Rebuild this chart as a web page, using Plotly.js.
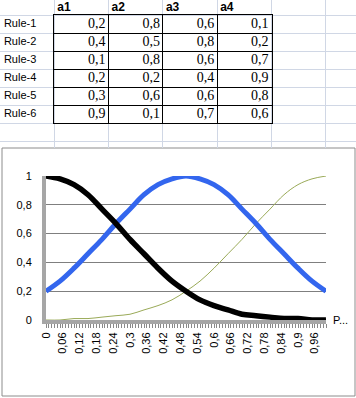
<!DOCTYPE html>
<html>
<head>
<meta charset="utf-8">
<script src="https://cdn.plot.ly/plotly-3.0.1.min.js"></script>
<style>
html,body{margin:0;padding:0;background:#fff;}
#chart{width:356px;height:398px;}
</style>
</head>
<body>
<div id="chart"></div>
<script>
// ---- table data ----
const ruleLabels = ["Rule-1","Rule-2","Rule-3","Rule-4","Rule-5","Rule-6"];
const colHeaders = ["a1","a2","a3","a4"];
const a1 = [0.2,0.4,0.1,0.2,0.3,0.9];
const a2 = [0.8,0.5,0.8,0.2,0.6,0.1];
const a3 = [0.6,0.8,0.6,0.4,0.6,0.7];
const a4 = [0.1,0.2,0.7,0.9,0.8,0.6];

// ---- chart data ----
const xs = [0,0.05,0.1,0.15,0.2,0.25,0.3,0.35,0.4,0.45,0.5,0.55,0.6,0.65,0.7,0.75,0.8,0.85,0.9,0.95,1];
const blackSeries = [1,0.98,0.94,0.87,0.77,0.67,0.56,0.46,0.36,0.27,0.2,0.14,0.1,0.07,0.04,0.03,0.02,0.01,0.01,0,0];
const blueSeries  = [0.2,0.27,0.36,0.46,0.56,0.67,0.77,0.87,0.94,0.98,1,0.98,0.94,0.87,0.77,0.67,0.56,0.46,0.36,0.27,0.2];
const greenSeries = [0,0,0.01,0.01,0.02,0.03,0.04,0.07,0.1,0.14,0.2,0.27,0.36,0.46,0.56,0.67,0.77,0.87,0.94,0.98,1];
const xTickVals = [0,0.06,0.12,0.18,0.24,0.3,0.36,0.42,0.48,0.54,0.6,0.66,0.72,0.78,0.84,0.9,0.96];
const seriesName = "P...";

const W = 356, H = 398;
const py = p => 1 - p / H;
const px = p => p / W;
const fmt = v => String(v).replace('.', ',');

const COLW = 54.3, ROWH = 18, HEADH = 15, SHEETH = 148;
const PAD = 3 / COLW; // text padding inside a cell, in column units
const sheetGray = '#d0d7e5';
const sans = 'Liberation Sans, Arial, sans-serif';
const serif = 'Liberation Serif, Times New Roman, serif';

// ---- table text marks, built from the data arrays ----
const cols = [a1, a2, a3, a4];
const numX = [], numY = [], numT = [];
cols.forEach((col, j) => col.forEach((v, i) => { numX.push(j + 2 - PAD); numY.push(i + 0.5); numT.push(fmt(v)); }));

const tableNums = {
  type: 'scatter', mode: 'text', xaxis: 'x2', yaxis: 'y2',
  x: numX, y: numY, text: numT, textposition: 'middle left',
  cliponaxis: false, hoverinfo: 'skip', showlegend: false,
  textfont: {family: serif, size: 14, color: '#000'}
};
const tableRows = {
  type: 'scatter', mode: 'text', xaxis: 'x2', yaxis: 'y2',
  x: ruleLabels.map(() => 1.3 * PAD), y: ruleLabels.map((r, i) => i + 0.5), text: ruleLabels,
  textposition: 'middle right', cliponaxis: false, hoverinfo: 'skip', showlegend: false,
  textfont: {family: sans, size: 11, color: '#000'}
};
const tableHead = {
  type: 'scatter', mode: 'text', xaxis: 'x2', yaxis: 'y2',
  x: colHeaders.map((h, j) => j + 1 + PAD), y: colHeaders.map(() => -HEADH / ROWH / 2),
  text: colHeaders.map(h => '<b>' + h + '</b>'),
  textposition: 'middle right', cliponaxis: false, hoverinfo: 'skip', showlegend: false,
  textfont: {family: sans, size: 12, color: '#000'}
};

const lineCommon = {type: 'scatter', mode: 'lines', x: xs, cliponaxis: false, hoverinfo: 'skip', showlegend: false};
const traces = [
  Object.assign({}, lineCommon, {y: greenSeries, line: {color: '#9aaa58', width: 1, shape: 'spline'}}),
  Object.assign({}, lineCommon, {y: blueSeries, line: {color: '#3366ee', width: 5, shape: 'spline'}}),
  Object.assign({}, lineCommon, {y: blackSeries, line: {color: '#000000', width: 5.5, shape: 'spline'}}),
  tableNums, tableRows, tableHead,
  {type: 'scatter', x: [], y: [], xaxis: 'x3', yaxis: 'y3', hoverinfo: 'skip', showlegend: false}
];

const shapes = [
  {type: 'rect', xref: 'paper', yref: 'paper', x0: px(2), x1: px(355), y0: py(148), y1: py(396), line: {color: '#8c8c8c', width: 1}, fillcolor: '#fff', layer: 'below'}
];

const layout = {
  width: W, height: H,
  margin: {l: 0, r: 0, t: 0, b: 0},
  paper_bgcolor: '#fff',
  plot_bgcolor: 'rgba(0,0,0,0)',
  separators: ', ',
  font: {family: sans, size: 11, color: '#000'},
  showlegend: false,
  xaxis: {
    domain: [px(46), px(326)],
    range: [0, 1],
    tickmode: 'array',
    tickvals: xTickVals,
    tickangle: -90,
    ticks: 'outside', ticklen: 4, tickcolor: '#888', tickwidth: 1,
    minor: {dtick: 0.01, tick0: 0, ticks: 'outside', ticklen: 4, tickcolor: '#888', tickwidth: 1, showgrid: false},
    showgrid: false, zeroline: false,
    showline: true, linecolor: '#a6a6a6', linewidth: 4,
    tickfont: {size: 11},
    fixedrange: true
  },
  yaxis: {
    domain: [py(320), py(176)],
    range: [0, 1],
    tickvals: [0, 0.2, 0.4, 0.6, 0.8, 1],
    ticks: '', ticklabelstandoff: 8,
    showgrid: true, gridcolor: '#7f7f7f', gridwidth: 1,
    zeroline: false,
    showline: true, linecolor: '#a6a6a6', linewidth: 4,
    tickfont: {size: 11},
    fixedrange: true
  },
  // spreadsheet grid (column / row units)
  xaxis2: {
    domain: [0, 1], range: [0, W / COLW], anchor: 'y2',
    tickmode: 'linear', tick0: 0, dtick: 1,
    showgrid: true, gridcolor: sheetGray, gridwidth: 1,
    showticklabels: false, ticks: '', zeroline: false, showline: false, fixedrange: true
  },
  yaxis2: {
    domain: [py(SHEETH), 1], range: [(SHEETH - HEADH) / ROWH, -HEADH / ROWH], anchor: 'x2',
    tickmode: 'linear', tick0: 0, dtick: 1,
    showgrid: true, gridcolor: sheetGray, gridwidth: 1,
    showticklabels: false, ticks: '', zeroline: false, showline: false, fixedrange: true
  },
  // black-bordered data block
  xaxis3: {
    domain: [px(COLW), px(5 * COLW)], range: [1, 5], anchor: 'y3',
    tickmode: 'linear', tick0: 1, dtick: 1,
    showgrid: true, gridcolor: '#000', gridwidth: 1,
    showline: true, mirror: true, linecolor: '#000', linewidth: 1,
    showticklabels: false, ticks: '', zeroline: false, fixedrange: true
  },
  yaxis3: {
    domain: [py(HEADH + 6 * ROWH), py(HEADH)], range: [6, 0], anchor: 'x3',
    tickmode: 'linear', tick0: 0, dtick: 1,
    showgrid: true, gridcolor: '#000', gridwidth: 1,
    showline: true, mirror: true, linecolor: '#000', linewidth: 1,
    showticklabels: false, ticks: '', zeroline: false, fixedrange: true
  },
  shapes: shapes,
  annotations: [{
    x: 1, y: 0, xref: 'x', yref: 'y', text: seriesName, showarrow: false,
    xanchor: 'left', yanchor: 'middle', xshift: 5,
    font: {size: 11, color: '#000'}
  }]
};

Plotly.newPlot('chart', traces, layout, {staticPlot: true, displayModeBar: false});
</script>
</body>
</html>
